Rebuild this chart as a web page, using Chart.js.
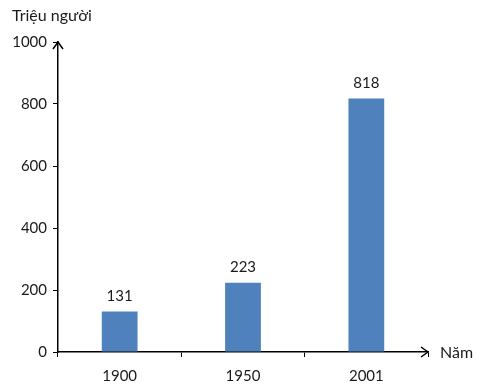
<!DOCTYPE html>
<html>
<head>
<meta charset="utf-8">
<script src="https://cdn.jsdelivr.net/npm/chart.js@4"></script>
<style>
  html, body { margin: 0; padding: 0; background: #fff; }
  #wrap { width: 488px; height: 391px; }
</style>
</head>
<body>
<div id="wrap"><canvas id="c" width="488" height="391"></canvas></div>
<script>
// Dân số (triệu người) theo năm
const years = ['1900', '1950', '2001'];
const population = [131, 223, 818];
const yTicks = [0, 200, 400, 600, 800, 1000];

const BAR_COLOR = '#4f81bd';
const AXIS_COLOR = '#000000';
const TEXT_COLOR = '#1a1a1a';
const FONT = 'Lato, "Open Sans", sans-serif';

// arrows, value labels and axis titles
const decorations = {
  id: 'decorations',
  afterDraw(chart) {
    const ctx = chart.ctx;
    const area = chart.chartArea;
    ctx.save();
    ctx.strokeStyle = AXIS_COLOR;
    ctx.lineWidth = 1.5;
    // y axis arrow
    ctx.beginPath();
    ctx.moveTo(area.left - 5, area.top + 7);
    ctx.lineTo(area.left, area.top);
    ctx.lineTo(area.left + 5, area.top + 7);
    ctx.stroke();
    // x axis arrow
    ctx.beginPath();
    ctx.moveTo(area.right - 7, area.bottom - 5);
    ctx.lineTo(area.right, area.bottom);
    ctx.lineTo(area.right - 7, area.bottom + 5);
    ctx.stroke();

    ctx.fillStyle = TEXT_COLOR;
    ctx.font = '16px ' + FONT;
    ctx.textBaseline = 'middle';
    ctx.textAlign = 'left';
    ctx.fillText('Triệu người', 12, 16);
    ctx.fillText('Năm', area.right + 12, area.bottom + 1);

    // value labels
    const meta = chart.getDatasetMeta(0);
    ctx.font = '15px ' + FONT;
    ctx.textAlign = 'center';
    ctx.textBaseline = 'bottom';
    meta.data.forEach((bar, i) => {
      ctx.fillText(String(population[i]), bar.x, bar.y - 8);
    });
    ctx.restore();
  }
};

new Chart(document.getElementById('c'), {
  type: 'bar',
  data: {
    labels: years,
    datasets: [{
      data: population,
      backgroundColor: BAR_COLOR,
      borderWidth: 0,
      barPercentage: 0.58,
      categoryPercentage: 0.5,
    }],
  },
  options: {
    responsive: false,
    animation: false,
    layout: { padding: { top: 42, right: 60, left: 0, bottom: 0 } },
    plugins: { legend: { display: false }, tooltip: { enabled: false } },
    scales: {
      x: {
        offset: true,
        grid: {
          offset: true,
          drawOnChartArea: false,
          drawTicks: true,
          tickLength: 5,
          color: AXIS_COLOR,
        },
        border: { color: AXIS_COLOR, width: 1.5 },
        ticks: { color: TEXT_COLOR, font: { family: FONT, size: 15 }, padding: 10 },
        afterFit(scale) { scale.height = 39; },
      },
      y: {
        min: 0,
        max: 1000,
        afterBuildTicks(scale) { scale.ticks = yTicks.map(v => ({ value: v })); },
        grid: {
          drawOnChartArea: false,
          drawTicks: true,
          tickLength: 5,
          color: AXIS_COLOR,
        },
        border: { color: AXIS_COLOR, width: 1.5 },
        ticks: {
          color: TEXT_COLOR,
          font: { family: FONT, size: 15 },
          padding: 6,
          callback: v => String(v),
        },
        afterFit(scale) { scale.width = 58; },
      },
    },
  },
  plugins: [decorations],
});
</script>
</body>
</html>
